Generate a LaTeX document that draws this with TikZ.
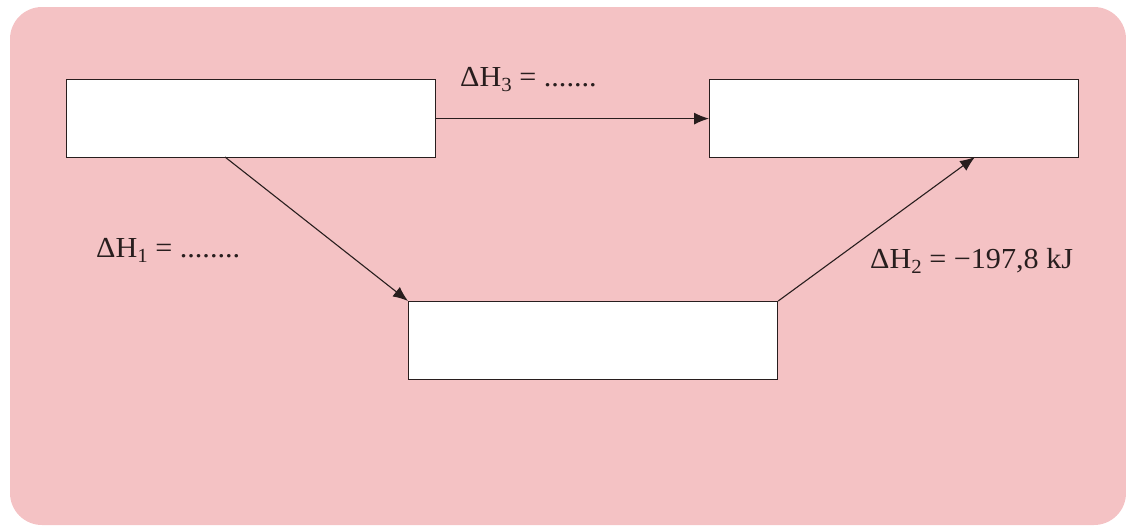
\documentclass[tikz,border=0pt]{standalone}
\usepackage{fontspec}
\setmainfont{Liberation Serif}
\usetikzlibrary{arrows.meta}
\definecolor{bgpink}{RGB}{244,194,196}
\definecolor{lineink}{RGB}{40,30,30}
\newcommand{\dH}[1]{ΔH\raisebox{-0.18em}{\fontsize{20}{22}\selectfont #1}}
\tikzset{
  box/.style={draw=lineink, line width=1.2pt, fill=white, minimum width=369pt, minimum height=78pt, inner sep=0pt, anchor=north west},
  conn/.style={draw=lineink, line width=1.1pt, -{Latex[length=15pt,width=12pt]}},
  lbl/.style={font=\fontsize{29}{32}\selectfont, text=lineink, inner sep=0pt, anchor=base west, xscale=1.04}
}
\begin{document}
\begin{tikzpicture}[x=1pt,y=-1pt]
\useasboundingbox (0,0) rectangle (1126,525);
\fill[bgpink, rounded corners=32pt] (10,7) rectangle (1126,525);
\node[box] (A) at (66,79) {};
\node[box] (B) at (709,79) {};
\node[box] (C) at (408,301) {};
\coordinate (Astart) at (225,157);
\coordinate (Bend) at (975,157);
\draw[conn] (A.east) -- (B.west);
\draw[conn] (Astart) -- (C.north west);
\draw[conn] (C.north east) -- (Bend);
\node[lbl] (l3) at (460,86) {\dH{3} = .......};
\node[lbl] (l1) at (96,257) {\dH{1} = ........};
\node[lbl] (l2) at (870,268) {\dH{2} = −197,8 kJ};
\end{tikzpicture}
\end{document}
